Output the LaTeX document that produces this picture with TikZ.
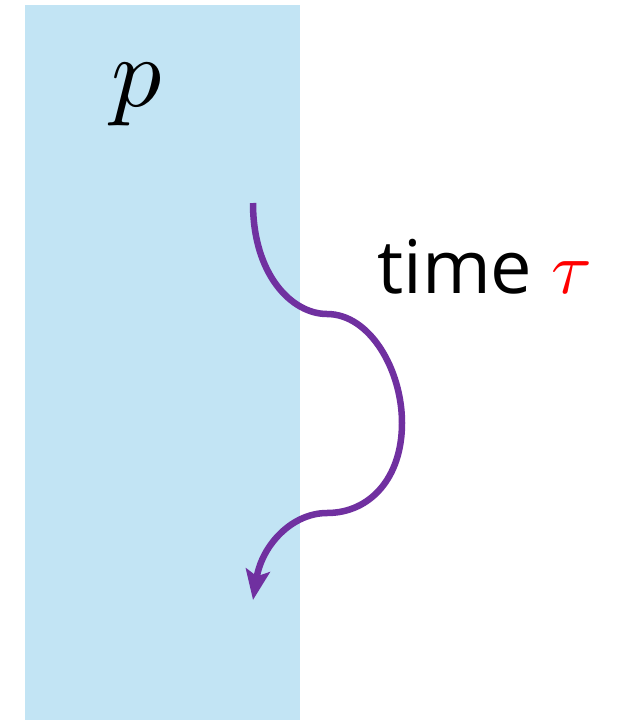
\documentclass[tikz,border=0pt]{standalone}
\usepackage{fontspec}
\usepackage{unicode-math}
\setsansfont{Open Sans}
\usetikzlibrary{arrows.meta}
\definecolor{panelblue}{HTML}{C2E4F4}
\definecolor{pathpurple}{HTML}{7030A0}
\tikzset{
  panel/.style={fill=panelblue, draw=none},
  traj/.style={draw=pathpurple, line width=6.5pt, -{Stealth[length=30pt,width=24pt,inset=6pt]}},
}
\begin{document}
\begin{tikzpicture}[x=1pt,y=-1pt]
\useasboundingbox (0,0) rectangle (623,720);
\fill[white] (0,0) rectangle (623,720);
\path[panel] (25,5) rectangle (300,720);
\node[anchor=base, inner sep=0pt] (p) at (137,106) {\fontsize{100}{100}\selectfont $p$};
\node[anchor=base west, inner sep=0pt] (t) at (377,293) {\fontsize{74}{74}\selectfont\sffamily time \textcolor{red}{$\tau$}};
\coordinate (s) at (253,203);
\coordinate (a) at (327,314);
\coordinate (b) at (402,423);
\coordinate (c) at (327,513);
\coordinate (e) at (253,600);
\draw[traj] (s) .. controls (253,275) and (292,314) .. (a)
  .. controls (370,314) and (402,370) .. (b)
  .. controls (402,478) and (370,513) .. (c)
  .. controls (292,513) and (262,545) .. (e);
\end{tikzpicture}
\end{document}
